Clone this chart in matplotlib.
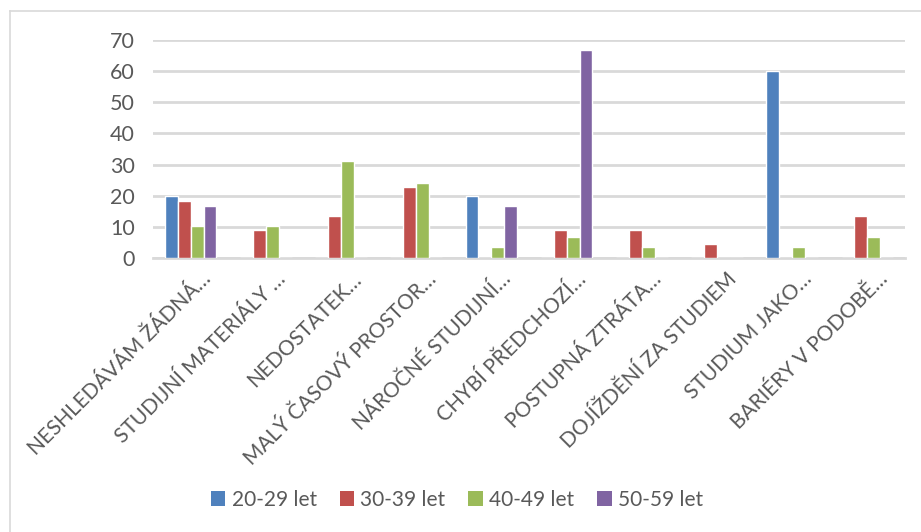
import matplotlib
matplotlib.use("Agg")
import matplotlib.pyplot as plt
from matplotlib.lines import Line2D
from matplotlib.patches import Patch
import numpy as np

plt.rcParams['font.family'] = ['Lato', 'DejaVu Sans']

categories = [
    "NESHLEDÁVÁM ŽÁDNÁ…",
    "STUDIJNÍ MATERIÁLY …",
    "NEDOSTATEK…",
    "MALÝ ČASOVÝ PROSTOR…",
    "NÁROČNÉ STUDIJNÍ…",
    "CHYBÍ PŘEDCHOZÍ…",
    "POSTUPNÁ ZTRÁTA…",
    "DOJÍŽDĚNÍ ZA STUDIEM",
    "STUDIUM JAKO…",
    "BARIÉRY V PODOBĚ…",
]
series_names = ["20-29 let", "30-39 let", "40-49 let", "50-59 let"]
age_20_29 = [20.0, 0, 0, 0, 20.0, 0, 0, 0, 60.0, 0]
age_30_39 = [18.2, 9.1, 13.6, 22.7, 0, 9.1, 9.1, 4.5, 0, 13.6]
age_40_49 = [10.3, 10.3, 31.0, 24.1, 3.4, 6.9, 3.4, 0, 3.4, 6.9]
age_50_59 = [16.7, 0, 0, 0, 16.7, 66.7, 0, 0, 0, 0]
y_ticks = [0, 10, 20, 30, 40, 50, 60, 70]

colors = ["#4F81BD", "#C0504D", "#9BBB59", "#8064A2"]
text_color = "#595959"
grid_color = "#D9D9D9"

W, H = 921, 532
fig = plt.figure(figsize=(W / 100, H / 100), dpi=100)
ax = fig.add_axes([153 / W, 1 - 258 / H, (905 - 153) / W, (258 - 40) / H])

x = np.arange(len(categories))
slot = 0.172
all_series = [age_20_29, age_30_39, age_40_49, age_50_59]
for i, (vals, col) in enumerate(zip(all_series, colors)):
    offs = (i - 1.5) * slot
    ax.bar(x + offs, vals, width=slot, color=col, edgecolor="white",
           linewidth=1.0, zorder=3)

ax.set_xlim(-0.5, len(categories) - 0.5)
ax.set_ylim(0, 70)
ax.set_yticks(y_ticks)
ax.set_yticklabels([str(v) for v in y_ticks], fontsize=15.5, color=text_color)
ax.tick_params(axis='y', length=0, pad=13)
ax.yaxis.grid(True, color=grid_color, linewidth=2.0, zorder=0)
ax.set_axisbelow(True)
for s in ["top", "right", "left"]:
    ax.spines[s].set_visible(False)
ax.spines["bottom"].set_color(grid_color)
ax.spines["bottom"].set_linewidth(2.0)

ax.set_xticks(x + 0.13)
ax.set_xticklabels(categories, rotation=45, ha="right", va="top",
                   rotation_mode="anchor", fontsize=15, color=text_color)
ax.tick_params(axis='x', length=0, pad=8)

handles = [Patch(facecolor=c, edgecolor="none") for c in colors]
fig.legend(handles, series_names, loc="center", bbox_to_anchor=(457 / W, 1 - 500 / H),
           ncol=4, frameon=False, fontsize=15, labelcolor=text_color,
           handlelength=0.7, handleheight=0.7, handletextpad=0.3, columnspacing=1.1)

# chart frame (top and left edges)
fig.add_artist(Line2D([9.5 / W, 9.5 / W], [0, 1 - 11 / H], transform=fig.transFigure,
                      color=grid_color, linewidth=1.2))
fig.add_artist(Line2D([9.5 / W, 1], [1 - 11 / H, 1 - 11 / H], transform=fig.transFigure,
                      color=grid_color, linewidth=1.2))

fig.savefig("out.png", dpi=100, facecolor="white")
